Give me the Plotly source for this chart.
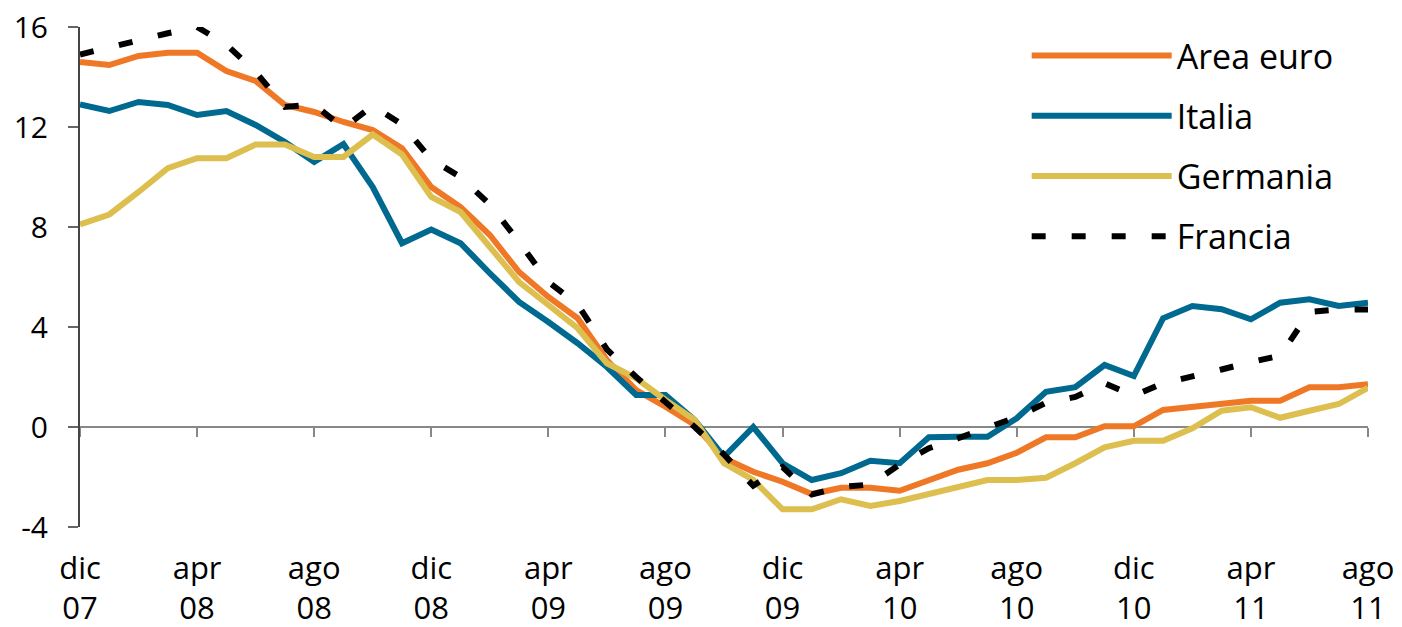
import plotly.graph_objects as go

months = ["dic 07",
          "gen 08", "feb 08", "mar 08", "apr 08", "mag 08", "giu 08", "lug 08", "ago 08", "set 08", "ott 08", "nov 08", "dic 08",
          "gen 09", "feb 09", "mar 09", "apr 09", "mag 09", "giu 09", "lug 09", "ago 09", "set 09", "ott 09", "nov 09", "dic 09",
          "gen 10", "feb 10", "mar 10", "apr 10", "mag 10", "giu 10", "lug 10", "ago 10", "set 10", "ott 10", "nov 10", "dic 10",
          "gen 11", "feb 11", "mar 11", "apr 11", "mag 11", "giu 11", "lug 11", "ago 11"]

area_euro = [14.6, 14.48, 14.84, 14.97, 14.97, 14.24, 13.84, 12.88, 12.6, 12.2, 11.88, 11.15, 9.6,
             8.8, 7.68, 6.2, 5.2, 4.35, 2.68, 1.48, 0.81, 0.08, -1.25, -1.79, -2.19,
             -2.68, -2.43, -2.43, -2.55, -2.12, -1.71, -1.45, -1.03, -0.41, -0.41, 0.03, 0.03,
             0.68, 0.81, 0.95, 1.05, 1.05, 1.59, 1.59, 1.71]

italia = [12.9, 12.64, 13.0, 12.88, 12.48, 12.64, 12.08, 11.4, 10.6, 11.32, 9.6, 7.35, 7.9,
          7.35, 6.15, 5.0, 4.2, 3.35, 2.4, 1.28, 1.28, 0.28, -1.19, 0.0, -1.45,
          -2.12, -1.85, -1.35, -1.45, -0.41, -0.39, -0.39, 0.35, 1.41, 1.59, 2.48, 2.04,
          4.35, 4.84, 4.71, 4.31, 4.97, 5.11, 4.84, 4.97]

germania = [8.1, 8.5, 9.4, 10.35, 10.75, 10.75, 11.3, 11.3, 10.8, 10.8, 11.7, 10.9, 9.2,
            8.6, 7.2, 5.8, 4.88, 3.95, 2.55, 1.95, 1.08, 0.28, -1.45, -2.12, -3.29,
            -3.29, -2.89, -3.16, -2.96, -2.68, -2.4, -2.12, -2.12, -2.03, -1.45, -0.81, -0.55,
            -0.55, -0.05, 0.65, 0.79, 0.37, 0.65, 0.92, 1.57]

francia = [14.9, 15.2, 15.45, 15.75, 16.0, 15.3, 14.2, 12.8, 12.9, 11.95, 12.85, 12.1, 10.7,
           10.0, 8.9, 7.4, 5.8, 4.9, 3.1, 2.0, 1.0, 0.0, -1.1, -2.35, -1.6,
           -2.7, -2.4, -2.3, -1.5, -0.85, -0.45, -0.05, 0.4, 0.97, 1.2, 1.75, 1.25,
           1.75, 2.0, 2.3, 2.6, 2.85, 4.6, 4.7, 4.7]

y_ticks = [-4, 0, 4, 8, 12, 16]
y_tick_text = ["-4", "0", "4", "8", "12", "16"]

x = list(range(len(months)))
tick_idx = list(range(0, len(months), 4))
tick_text = [months[i].replace(" ", "<br>") for i in tick_idx]

ORANGE = "#EF7826"
BLUE = "#00698F"
YELLOW = "#DDBF50"

fig = go.Figure()
series = [("Area euro", area_euro, ORANGE, "solid", "x"),
          ("Italia", italia, BLUE, "solid", "x"),
          ("Germania", germania, YELLOW, "solid", "x"),
          ("Francia", francia, "black", "14px,26px", "x2")]
for i, (name, vals, col, dash, xa) in enumerate(series):
    fig.add_trace(go.Scatter(x=x, y=vals, name=name, mode="lines",
                             line=dict(color=col, width=6, dash=dash),
                             xaxis=xa, legendgroup=f"g{i}"))

xr = [0, len(months) - 1]
fig.update_layout(
    width=1402, height=627,
    margin=dict(l=80, r=34, t=27, b=100),
    plot_bgcolor="white", paper_bgcolor="white",
    font=dict(family="Open Sans", size=30, color="black"),
    xaxis=dict(range=xr, tickvals=tick_idx, ticktext=tick_text, showgrid=False,
               zeroline=False, showline=False, ticks="", ticklabelstandoff=20,
               automargin=False, tickfont=dict(size=31), ticklabeloverflow="allow"),
    xaxis2=dict(range=xr, overlaying="x", anchor="free", position=0.2, matches="x",
                tickvals=tick_idx, showticklabels=False, showgrid=False, zeroline=False,
                showline=True, linecolor="#888888", linewidth=2, ticks="outside",
                ticklen=9, tickwidth=2, tickcolor="#888888", layer="below traces",
                automargin=False),
    yaxis=dict(range=[-4, 16], tickvals=y_ticks, ticktext=y_tick_text, showgrid=False,
               zeroline=False, showline=True, linecolor="#444444", linewidth=2,
               ticks="outside", ticklen=10, tickwidth=2, tickcolor="#666666",
               ticklabelstandoff=14, automargin=False, ticklabeloverflow="allow"),
    legend=dict(x=0.735, y=1.0, xanchor="left", yanchor="top", bgcolor="rgba(0,0,0,0)",
                font=dict(size=34), itemwidth=140, tracegroupgap=13),
    showlegend=True,
)

fig.write_html("out.html", config={"displayModeBar": False},
               post_script="document.body.style.margin='0';document.body.style.overflow='hidden';")
